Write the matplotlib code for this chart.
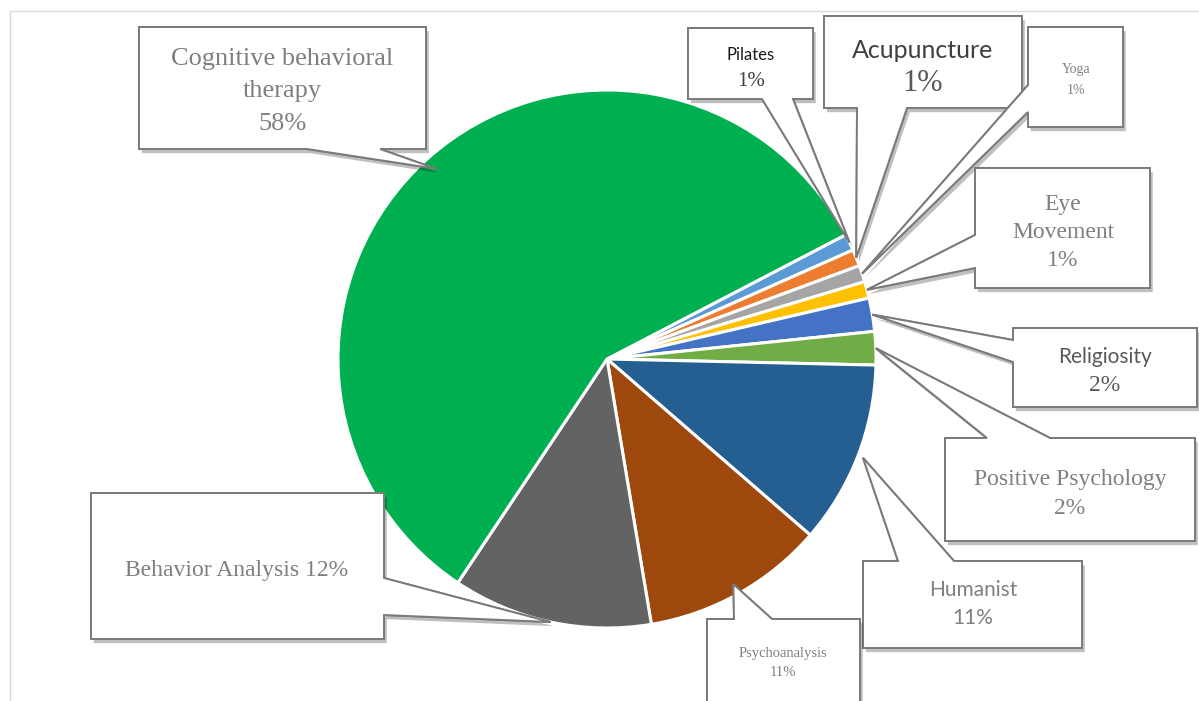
import numpy as np
import matplotlib
matplotlib.use("Agg")
import matplotlib.pyplot as plt
from matplotlib.patches import Polygon
import matplotlib.patheffects as pe

# data
categories = ["Pilates", "Acupuncture", "Yoga", "Eye\nMovement", "Religiosity",
              "Positive Psychology", "Humanist", "Psychoanalysis",
              "Behavior Analysis", "Cognitive behavioral\ntherapy"]
values = [1, 1, 1, 1, 2, 2, 11, 11, 12, 58]
colors = ["#5B9BD5", "#ED7D31", "#A5A5A5", "#FFC000", "#4472C4",
          "#70AD47", "#255E91", "#9E480E", "#636363", "#00B050"]

SERIF = "Liberation Serif"
SANS = "Lato"

# callout layout in image pixels (y down):
# box (x0, y0, x1, y1), pointer side, pointer base (a, b), text centre, line gap,
# tip radius factor, (name font, size, colour), (pct font, size, colour), inline pct
callouts = [
    dict(box=(688, 28, 813, 99), side="bottom", base=(762, 793), c=(751, 66), gap=26,
         tip=1.0, name=(SANS, 12, "#1a1a1a"), pct=(SERIF, 15, "#404040")),
    dict(box=(824, 16, 1022, 108), side="bottom", base=(857, 907), c=(923, 64), gap=32,
         tip=1.0, name=(SANS, 18, "#404040"), pct=(SERIF, 22, "#595959")),
    dict(box=(1028, 27, 1123, 127), side="left", base=(85, 112), c=(1076, 78), gap=21,
         tip=1.0, name=(SERIF, 10, "#808080"), pct=(SERIF, 10, "#808080")),
    dict(box=(975, 168, 1150, 288), side="left", base=(235, 268), c=(1063, 230), gap=28,
         tip=1.0, name=(SERIF, 17, "#7f7f7f"), pct=(SERIF, 17, "#7f7f7f")),
    dict(box=(1013, 328, 1197, 407), side="left", base=(340, 362), c=(1105, 369), gap=28,
         tip=1.0, name=(SANS, 15, "#595959"), pct=(SERIF, 17, "#595959")),
    dict(box=(945, 438, 1195, 541), side="top", base=(987, 1050), c=(1070, 492), gap=29,
         tip=1.0, name=(SERIF, 17, "#7f7f7f"), pct=(SERIF, 17, "#7f7f7f")),
    dict(box=(863, 561, 1082, 648), side="top", base=(898, 954), c=(973, 602), gap=29,
         tip=1.02, name=(SANS, 15, "#808080"), pct=(SANS, 15, "#808080")),
    dict(box=(707, 619, 860, 705), side="top", base=(734, 772), c=(783, 661), gap=19,
         tip=0.96, name=(SERIF, 10.5, "#7f7f7f"), pct=(SERIF, 10.5, "#7f7f7f")),
    dict(box=(91, 493, 384, 639), side="right", base=(578, 615), c=(237, 568), gap=0,
         tip=1.0, name=(SERIF, 17, "#7f7f7f"), pct=(SERIF, 17, "#7f7f7f"), inline=True),
    dict(box=(139, 27, 426, 149), side="bottom", base=(307, 380), c=(282, 89), gap=32.5,
         tip=0.95, name=(SERIF, 19, "#7f7f7f"), pct=(SERIF, 19, "#7f7f7f")),
]

W, H = 1199, 701
CX, CY, R = 607, 359, 269


def fy(y):
    return H - y


def callout_poly(box, side, base, tip):
    x0, y0, x1, y1 = box
    a, b = base
    pts = [(x0, y0)]
    if side == "top":
        pts += [(a, y0), tip, (b, y0)]
    pts += [(x1, y0)]
    if side == "right":
        pts += [(x1, a), tip, (x1, b)]
    pts += [(x1, y1)]
    if side == "bottom":
        pts += [(b, y1), tip, (a, y1)]
    pts += [(x0, y1)]
    if side == "left":
        pts += [(x0, b), tip, (x0, a)]
    return [(x, fy(y)) for x, y in pts]


fig = plt.figure(figsize=(W / 100, H / 100), dpi=100)
ax = fig.add_axes([0, 0, 1, 1])

wedges, _ = ax.pie(values, colors=colors, startangle=27.5, counterclock=False,
                   center=(CX, fy(CY)), radius=R, frame=True,
                   wedgeprops=dict(edgecolor="white", linewidth=2.2))

ax.set_xlim(0, W)
ax.set_ylim(0, H)
ax.axis("off")

# chart area border
ax.plot([10, W], [fy(11), fy(11)], color="#D9D9D9", lw=1)
ax.plot([10, 10], [0, fy(11)], color="#D9D9D9", lw=1)

for w, name, val, co in zip(wedges, categories, values, callouts):
    mid = np.deg2rad((w.theta1 + w.theta2) / 2)
    tx = CX + co["tip"] * R * np.cos(mid)
    ty = CY - co["tip"] * R * np.sin(mid)
    poly = Polygon(callout_poly(co["box"], co["side"], co["base"], (tx, ty)),
                   closed=True, facecolor="white", edgecolor="#7a7a7a", lw=1.4, zorder=5)
    poly.set_path_effects([pe.withSimplePatchShadow(offset=(2, -3), shadow_rgbFace="black",
                                                    alpha=0.25), pe.Normal()])
    ax.add_patch(poly)

    pct = f"{val}%"
    if co.get("inline"):
        lines = [(name + " " + pct, co["name"])]
    else:
        lines = [(s, co["name"]) for s in name.split("\n")] + [(pct, co["pct"])]
    n = len(lines)
    cx, cy = co["c"]
    for i, (s, (fam, size, col)) in enumerate(lines):
        y = cy + (i - (n - 1) / 2) * co["gap"]
        ax.text(cx, fy(y), s, ha="center", va="center_baseline", fontsize=size,
                family=fam, color=col, zorder=6)

fig.savefig("out.png", dpi=100)
